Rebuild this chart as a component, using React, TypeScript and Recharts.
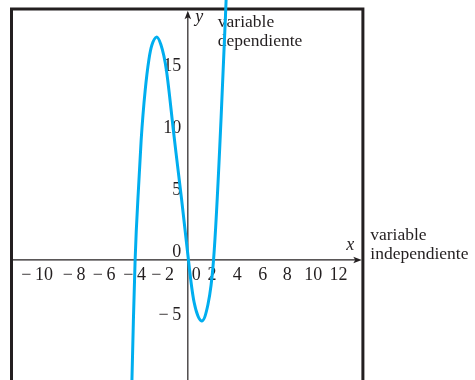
import React from 'react';
import {
  LineChart,
  Line,
  XAxis,
  YAxis,
  ReferenceArea,
  ReferenceLine,
  ReferenceDot,
} from 'recharts';

// Points along the cubic curve (x, y)
const curveX = [-4.6, -4.45, -4.2, -3.95, -3.72, -3.4, -3.1, -2.85, -2.5, -2.15, -1.7, -1.15, -0.5, 0.05, 0.5, 1.1, 1.6, 2.05, 2.55, 3.0, 3.1];
const curveY = [-15.5, -9.5, 0, 5.4, 9.6, 13.6, 16.1, 17.3, 17.9, 17.3, 15.2, 10.4, 4.9, 0, -3.4, -4.9, -3.6, 0, 9.2, 19.6, 22.5];

// Axis tick values
const xTicks = [-10, -8, -6, -4, -2, 0, 2, 4, 6, 8, 10, 12];
const yTicks = [-5, 0, 5, 10, 15];

// Axis titles
const xName = 'x';
const yName = 'y';
const xTitle = ['variable', 'independiente'];
const yTitle = ['variable', 'dependiente'];

// View window of the plane
const X_DOMAIN: [number, number] = [-14.05, 13.95];
const Y_DOMAIN: [number, number] = [-9.64, 20.88];
const FRAME_TOP = 20.16;
const FRAME_BOTTOM = -12;
const X_ARROW_END = 13.86;
const Y_ARROW_END = 20.02;

// Horizontal label nudges (px) for the x tick labels
const X_LABEL_NUDGE: Record<number, number> = {
  [-10]: -25.3,
  [-8]: -13.4,
  [-6]: -8.5,
  [-4]: -2.9,
  [-2]: 0,
  [0]: 8.5,
  [2]: -0.9,
  [4]: -0.7,
  [6]: -0.4,
  [8]: -0.9,
  [10]: 0,
  [12]: 0,
};

const INK = '#231f20';
const CURVE = '#00aeef';
const SERIF = '"Liberation Serif", "Times New Roman", Times, serif';

const data = curveX.map((x, i) => ({ x, y: curveY[i] }));

const fmt = (v: number) => (v < 0 ? `\u2212\u2009${-v}` : `${v}`);

function XArrow(props: any) {
  const { x1, y1, x2, y2 } = props;
  return (
    <g>
      <line x1={x1} y1={y1} x2={x2 - 6} y2={y2} stroke={INK} strokeWidth={1.2} />
      <path
        d={`M${x2},${y2} L${x2 - 8.5},${y2 - 3.3} L${x2 - 6.5},${y2} L${x2 - 8.5},${y2 + 3.3} Z`}
        fill={INK}
      />
      <text x={x2 - 11.5} y={y2 - 9.5} fontFamily={SERIF} fontSize={18} fontStyle="italic" fill={INK} textAnchor="middle">
        {xName}
      </text>
      <text x={x2 + 8.5} y={y2 - 20} fontFamily={SERIF} fontSize={17.5} fill={INK}>
        {xTitle[0]}
      </text>
      <text x={x2 + 8.5} y={y2 - 0.8} fontFamily={SERIF} fontSize={17.5} fill={INK}>
        {xTitle[1]}
      </text>
    </g>
  );
}

function YArrow(props: any) {
  const { x1, y1, x2, y2 } = props;
  return (
    <g>
      <line x1={x1} y1={y1} x2={x2} y2={y2 + 6} stroke={INK} strokeWidth={1.2} />
      <path
        d={`M${x2},${y2} L${x2 - 3.3},${y2 + 8.5} L${x2},${y2 + 6.5} L${x2 + 3.3},${y2 + 8.5} Z`}
        fill={INK}
      />
      <text x={x2 + 7.5} y={y2 + 11.5} fontFamily={SERIF} fontSize={18} fontStyle="italic" fill={INK}>
        {yName}
      </text>
      <text x={x2 + 30} y={y2 + 15.8} fontFamily={SERIF} fontSize={17.5} fill={INK}>
        {yTitle[0]}
      </text>
      <text x={x2 + 30} y={y2 + 35} fontFamily={SERIF} fontSize={17.5} fill={INK}>
        {yTitle[1]}
      </text>
    </g>
  );
}

export default function App() {
  return (
    <div style={{ position: 'fixed', left: 0, top: 0, width: 475, height: 380 }}>
      <LineChart
        width={475}
        height={380}
        data={data}
        margin={{ top: 0, right: 112.1, bottom: 0, left: 11.5 }}
      >
        <XAxis dataKey="x" type="number" domain={X_DOMAIN} allowDataOverflow hide />
        <YAxis type="number" domain={Y_DOMAIN} allowDataOverflow hide />

        <ReferenceArea
          x1={X_DOMAIN[0]}
          x2={X_DOMAIN[1]}
          y1={FRAME_BOTTOM}
          y2={FRAME_TOP}
          ifOverflow="visible"
          fill="none"
          fillOpacity={0}
          stroke={INK}
          strokeWidth={3}
          zIndex={50}
        />

        <ReferenceLine
          segment={[{ x: X_DOMAIN[0], y: 0 }, { x: X_ARROW_END, y: 0 }]}
          ifOverflow="visible"
          shape={XArrow}
          zIndex={60}
        />
        <ReferenceLine
          segment={[{ x: 0, y: FRAME_BOTTOM }, { x: 0, y: Y_ARROW_END }]}
          ifOverflow="visible"
          shape={YArrow}
          zIndex={60}
        />

        {xTicks.map((v) => (
          <ReferenceDot
            key={`xt${v}`}
            x={v}
            y={0}
            r={0}
            ifOverflow="visible"
            zIndex={70}
            shape={(p: any) => (
              <text
                x={p.cx + (X_LABEL_NUDGE[v] ?? 0)}
                y={p.cy + 20}
                textAnchor="middle"
                fontFamily={SERIF}
                fontSize={18}
                fill={INK}
              >
                {fmt(v)}
              </text>
            )}
          />
        ))}

        {yTicks.map((v) => (
          <ReferenceDot
            key={`yt${v}`}
            x={0}
            y={v}
            r={0}
            ifOverflow="visible"
            zIndex={70}
            shape={(p: any) => (
              <text
                x={p.cx - 6.5}
                y={p.cy - 2.7}
                textAnchor="end"
                fontFamily={SERIF}
                fontSize={18}
                fill={INK}
              >
                {fmt(v)}
              </text>
            )}
          />
        ))}

        <Line
          dataKey="y"
          type="natural"
          stroke={CURVE}
          strokeWidth={3}
          dot={false}
          activeDot={false}
          isAnimationActive={false}
        />
      </LineChart>
    </div>
  );
}
